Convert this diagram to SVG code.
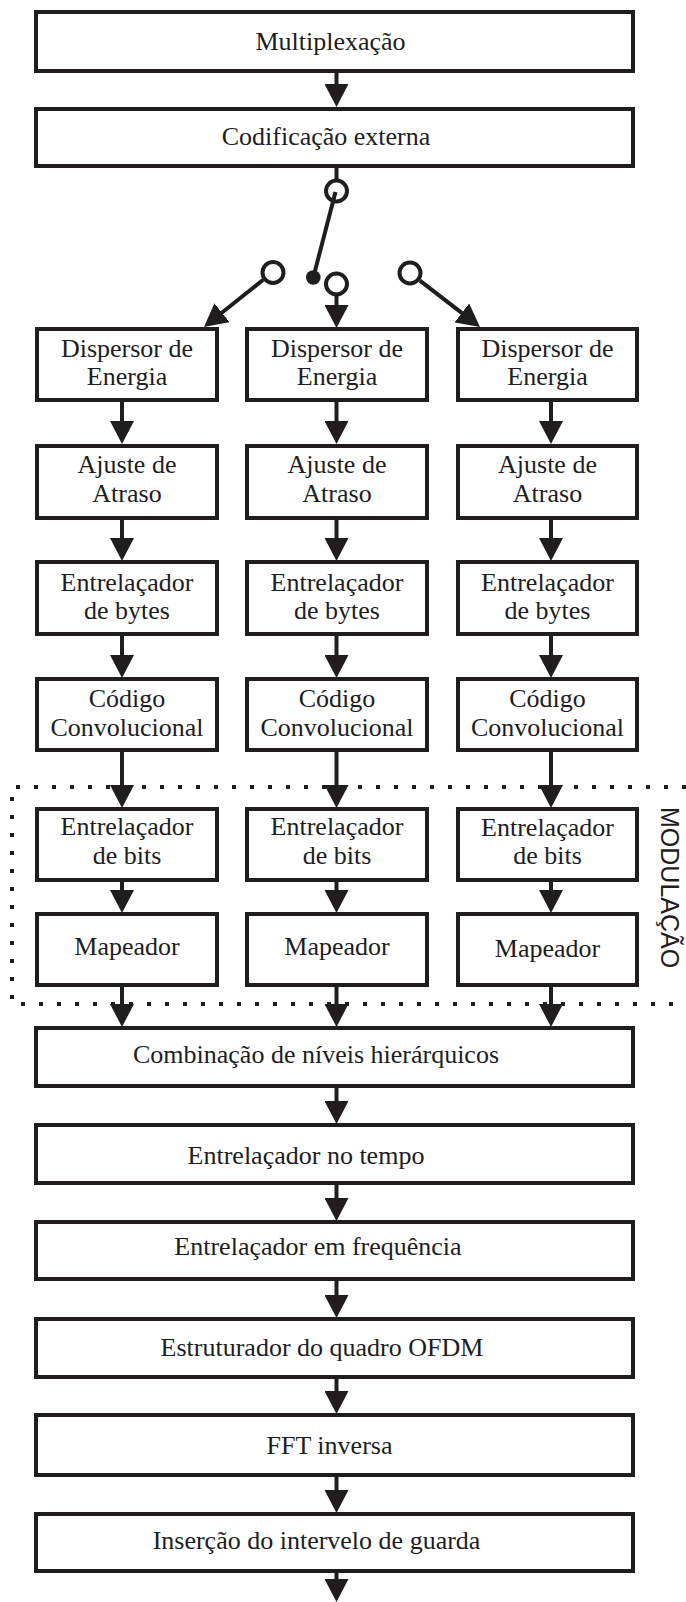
<svg xmlns="http://www.w3.org/2000/svg" width="686" height="1602" viewBox="0 0 686 1602">
  <style>
    .box { fill: #ffffff; stroke: #211d1e; stroke-width: 4; }
    .lbl { font-family: "Liberation Serif", "Times New Roman", serif; font-size: 26px; fill: #211d1e; text-anchor: middle; }
    .wire { stroke: #211d1e; stroke-width: 4; fill: none; }
    .arrow { stroke: #211d1e; stroke-width: 4; fill: none; marker-end: url(#ah); }
    .term { fill: #ffffff; stroke: #211d1e; stroke-width: 4; }
    .dots { fill: none; stroke: #211d1e; stroke-width: 4; stroke-dasharray: 4 14; }
    .tag { font-family: "Liberation Sans", Arial, sans-serif; font-size: 25px; fill: #211d1e; }
  </style>
  <defs>
    <marker id="ah" markerUnits="userSpaceOnUse" markerWidth="24" markerHeight="24" refX="13" refY="12" orient="auto">
      <path d="M0,0 L23,12 L0,24 Z" fill="#211d1e"/>
    </marker>
  </defs>
  <rect x="0" y="0" width="686" height="1602" fill="#ffffff"/>

  <!-- modulation block outline (open on the right side) -->
  <g id="modulacao">
    <path class="dots" d="M686,787 H12 V1004 H686"/>
    <text class="tag" transform="translate(661,807) rotate(90)">MODULAÇÃO</text>
  </g>

  <!-- connectors -->
  <g id="connectors">
    <line class="arrow" x1="336.5" y1="73" x2="336.5" y2="97"/>
    <line class="wire" x1="336.5" y1="168" x2="336.5" y2="180"/>
    <!-- switch outputs -->
    <line class="arrow" x1="263.2" y1="279.8" x2="211.8" y2="320.8"/>
    <line class="arrow" x1="336.5" y1="296" x2="336.5" y2="318"/>
    <line class="arrow" x1="419.9" y1="280.6" x2="472.1" y2="320.9"/>
    <!-- left column -->
    <line class="arrow" x1="122" y1="402" x2="122" y2="434"/>
    <line class="arrow" x1="122" y1="520" x2="122" y2="551"/>
    <line class="arrow" x1="122" y1="636" x2="122" y2="668"/>
    <line class="arrow" x1="122" y1="752" x2="122" y2="798"/>
    <line class="arrow" x1="122" y1="882" x2="122" y2="903"/>
    <line class="arrow" x1="122" y1="987" x2="122" y2="1017"/>
    <!-- middle column -->
    <line class="arrow" x1="336.5" y1="402" x2="336.5" y2="434"/>
    <line class="arrow" x1="336.5" y1="520" x2="336.5" y2="551"/>
    <line class="arrow" x1="336.5" y1="636" x2="336.5" y2="668"/>
    <line class="arrow" x1="336.5" y1="752" x2="336.5" y2="798"/>
    <line class="arrow" x1="336.5" y1="882" x2="336.5" y2="903"/>
    <line class="arrow" x1="336.5" y1="987" x2="336.5" y2="1017"/>
    <!-- right column -->
    <line class="arrow" x1="551" y1="402" x2="551" y2="434"/>
    <line class="arrow" x1="551" y1="520" x2="551" y2="551"/>
    <line class="arrow" x1="551" y1="636" x2="551" y2="668"/>
    <line class="arrow" x1="551" y1="752" x2="551" y2="798"/>
    <line class="arrow" x1="551" y1="882" x2="551" y2="903"/>
    <line class="arrow" x1="551" y1="987" x2="551" y2="1017"/>
    <!-- lower chain -->
    <line class="arrow" x1="336.5" y1="1088" x2="336.5" y2="1114"/>
    <line class="arrow" x1="336.5" y1="1185" x2="336.5" y2="1211"/>
    <line class="arrow" x1="336.5" y1="1281" x2="336.5" y2="1308"/>
    <line class="arrow" x1="336.5" y1="1379" x2="336.5" y2="1404"/>
    <line class="arrow" x1="336.5" y1="1477" x2="336.5" y2="1503"/>
    <line class="arrow" x1="336.5" y1="1573" x2="336.5" y2="1592"/>
  </g>

  <!-- hierarchical level selector switch -->
  <g id="switch">
    <circle class="term" cx="336.5" cy="191" r="10.5"/>
    <circle class="term" cx="273" cy="272.5" r="10.5"/>
    <circle class="term" cx="336.5" cy="284" r="10.5"/>
    <circle class="term" cx="410" cy="273" r="10.5"/>
    <line class="wire" x1="335.5" y1="192" x2="313.3" y2="277.5"/>
    <circle cx="313.3" cy="277.5" r="7.3" fill="#211d1e"/>
  </g>

  <g id="multiplexacao">
    <rect class="box" x="36" y="12" width="597" height="59"/>
    <text class="lbl" x="330.5" y="50">Multiplexação</text>
  </g>
  <g id="codificacao-externa">
    <rect class="box" x="36" y="109" width="597" height="57"/>
    <text class="lbl" x="326" y="145">Codificação externa</text>
  </g>

  <!-- layer A -->
  <g id="dispersor-a">
    <rect class="box" x="37" y="329" width="180" height="71"/>
    <text class="lbl" x="127" y="357">Dispersor de</text>
    <text class="lbl" x="127" y="385">Energia</text>
  </g>
  <g id="ajuste-a">
    <rect class="box" x="37" y="446" width="180" height="72"/>
    <text class="lbl" x="127" y="473">Ajuste de</text>
    <text class="lbl" x="127" y="502">Atraso</text>
  </g>
  <g id="bytes-a">
    <rect class="box" x="37" y="562" width="180" height="72"/>
    <text class="lbl" x="127" y="591">Entrelaçador</text>
    <text class="lbl" x="127" y="619">de bytes</text>
  </g>
  <g id="convolucional-a">
    <rect class="box" x="37" y="679" width="180" height="71"/>
    <text class="lbl" x="127" y="707">Código</text>
    <text class="lbl" x="127" y="736">Convolucional</text>
  </g>
  <g id="bits-a">
    <rect class="box" x="37" y="809" width="180" height="71"/>
    <text class="lbl" x="127" y="835">Entrelaçador</text>
    <text class="lbl" x="127" y="864">de bits</text>
  </g>
  <g id="mapeador-a">
    <rect class="box" x="37" y="914" width="180" height="71"/>
    <text class="lbl" x="127" y="955">Mapeador</text>
  </g>

  <!-- layer B -->
  <g id="dispersor-b">
    <rect class="box" x="247" y="329" width="180" height="71"/>
    <text class="lbl" x="337" y="357">Dispersor de</text>
    <text class="lbl" x="337" y="385">Energia</text>
  </g>
  <g id="ajuste-b">
    <rect class="box" x="247" y="446" width="180" height="72"/>
    <text class="lbl" x="337" y="473">Ajuste de</text>
    <text class="lbl" x="337" y="502">Atraso</text>
  </g>
  <g id="bytes-b">
    <rect class="box" x="247" y="562" width="180" height="72"/>
    <text class="lbl" x="337" y="591">Entrelaçador</text>
    <text class="lbl" x="337" y="619">de bytes</text>
  </g>
  <g id="convolucional-b">
    <rect class="box" x="247" y="679" width="180" height="71"/>
    <text class="lbl" x="337" y="707">Código</text>
    <text class="lbl" x="337" y="736">Convolucional</text>
  </g>
  <g id="bits-b">
    <rect class="box" x="247" y="809" width="180" height="71"/>
    <text class="lbl" x="337" y="835">Entrelaçador</text>
    <text class="lbl" x="337" y="864">de bits</text>
  </g>
  <g id="mapeador-b">
    <rect class="box" x="247" y="914" width="180" height="71"/>
    <text class="lbl" x="337" y="955">Mapeador</text>
  </g>

  <!-- layer C -->
  <g id="dispersor-c">
    <rect class="box" x="458" y="329" width="179" height="71"/>
    <text class="lbl" x="547.5" y="357">Dispersor de</text>
    <text class="lbl" x="547.5" y="385">Energia</text>
  </g>
  <g id="ajuste-c">
    <rect class="box" x="458" y="446" width="179" height="72"/>
    <text class="lbl" x="547.5" y="473">Ajuste de</text>
    <text class="lbl" x="547.5" y="502">Atraso</text>
  </g>
  <g id="bytes-c">
    <rect class="box" x="458" y="562" width="179" height="72"/>
    <text class="lbl" x="547.5" y="591">Entrelaçador</text>
    <text class="lbl" x="547.5" y="619">de bytes</text>
  </g>
  <g id="convolucional-c">
    <rect class="box" x="458" y="679" width="179" height="71"/>
    <text class="lbl" x="547.5" y="707">Código</text>
    <text class="lbl" x="547.5" y="736">Convolucional</text>
  </g>
  <g id="bits-c">
    <rect class="box" x="458" y="809" width="179" height="71"/>
    <text class="lbl" x="547.5" y="836">Entrelaçador</text>
    <text class="lbl" x="547.5" y="864">de bits</text>
  </g>
  <g id="mapeador-c">
    <rect class="box" x="458" y="914" width="179" height="71"/>
    <text class="lbl" x="547.5" y="957">Mapeador</text>
  </g>

  <!-- common chain -->
  <g id="combinacao">
    <rect class="box" x="36" y="1028" width="597" height="58"/>
    <text class="lbl" x="316" y="1063">Combinação de níveis hierárquicos</text>
  </g>
  <g id="entrelacador-tempo">
    <rect class="box" x="36" y="1125" width="597" height="58"/>
    <text class="lbl" x="306" y="1164">Entrelaçador no tempo</text>
  </g>
  <g id="entrelacador-frequencia">
    <rect class="box" x="36" y="1222" width="597" height="57"/>
    <text class="lbl" x="318" y="1255">Entrelaçador em frequência</text>
  </g>
  <g id="estruturador">
    <rect class="box" x="36" y="1319" width="597" height="58"/>
    <text class="lbl" x="322" y="1356">Estruturador do quadro OFDM</text>
  </g>
  <g id="fft-inversa">
    <rect class="box" x="36" y="1415" width="597" height="60"/>
    <text class="lbl" x="329.5" y="1454">FFT inversa</text>
  </g>
  <g id="intervalo-guarda">
    <rect class="box" x="36" y="1514" width="597" height="57"/>
    <text class="lbl" x="316.5" y="1549">Inserção do intervelo de guarda</text>
  </g>
</svg>
